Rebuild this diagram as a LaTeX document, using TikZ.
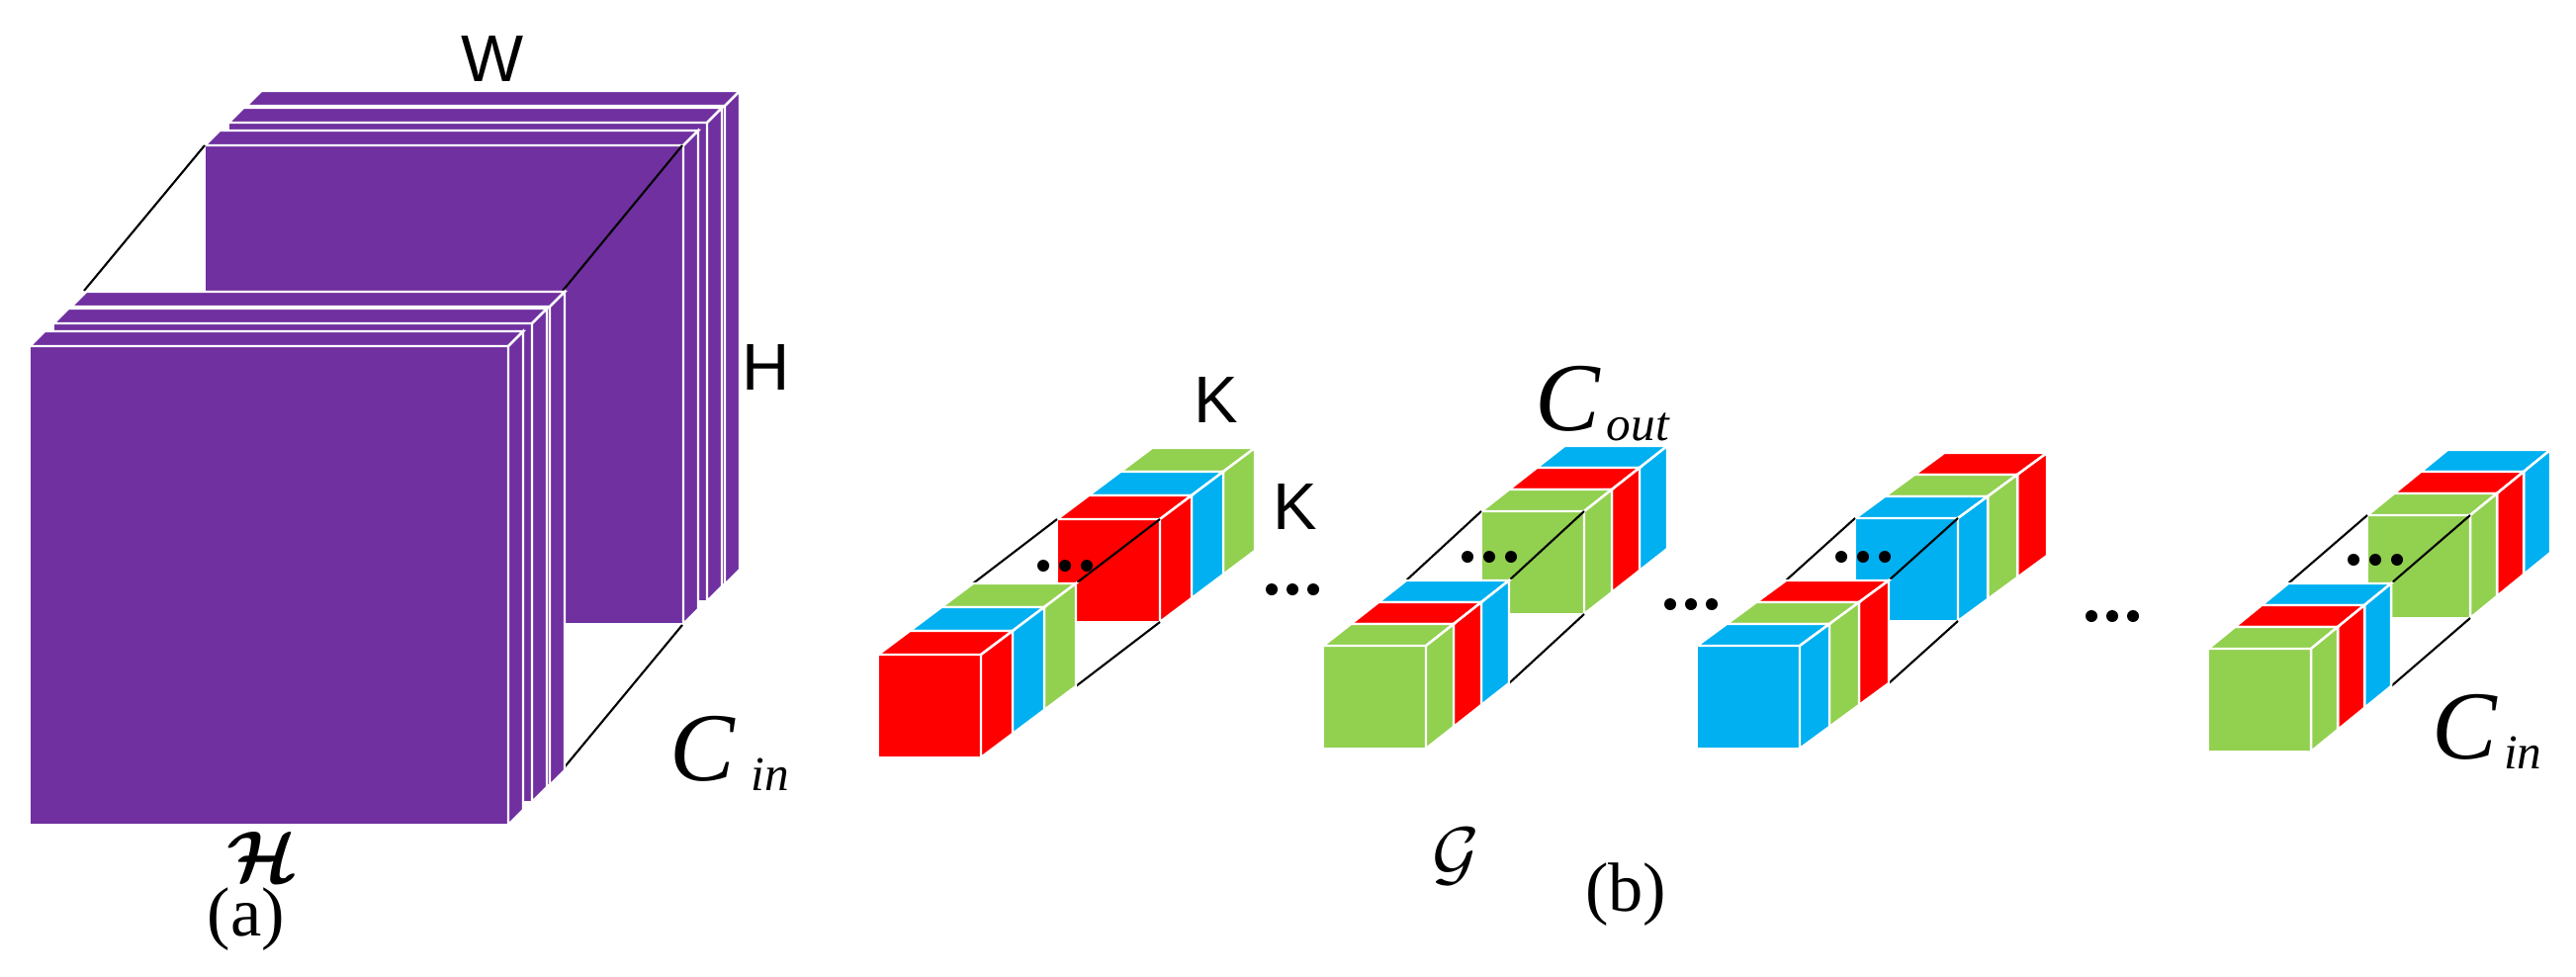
\documentclass[tikz,border=0pt]{standalone}
\usepackage{fontspec}
\usepackage{amsmath,bm}
\setmainfont{Liberation Serif}
\newfontfamily\sansf{Liberation Sans}
\definecolor{pur}{HTML}{7030A0}
\definecolor{kred}{HTML}{FF0000}
\definecolor{kblue}{HTML}{00B0F0}
\definecolor{kgreen}{HTML}{92D050}
\newcommand\slab[6]{%
 \begin{scope}[shift={(#2,#3)}]
  \filldraw[face,fill=#1] (0,0) rectangle (#4,#4);
  \filldraw[face,fill=#1] (0,0) -- (#5,#6) -- ({#4+#5},#6) -- (#4,0) -- cycle;
  \filldraw[face,fill=#1] (#4,0) -- ({#4+#5},#6) -- ({#4+#5},{#4+#6}) -- (#4,#4) -- cycle;
 \end{scope}}
% #1 x, #2 y, #3-#5 colours, #6 #7 slice depth, #8 #9 back-group offset
\newcommand\kbar[9]{%
 \begin{scope}[shift={(#1,#2)}]
 \slab{#5}{#8+2*#6}{#9+2*#7}{104}{#6}{#7}
 \slab{#4}{#8+#6}{#9+#7}{104}{#6}{#7}
 \slab{#3}{#8}{#9}{104}{#6}{#7}
 \draw[edge] (3*#6,3*#7) -- (#8,#9);
 \draw[edge] (104+3*#6,3*#7) -- (#8+104,#9);
 \draw[edge] (104+3*#6,104+3*#7) -- (#8+104,#9+104);
 \slab{#5}{2*#6}{2*#7}{104}{#6}{#7}
 \slab{#4}{#6}{#7}{104}{#6}{#7}
 \slab{#3}{0}{0}{104}{#6}{#7}
 \fill (#8-14,-90) circle (6) (#8+8,-90) circle (6) (#8+30,-90) circle (6);
 \end{scope}}
\newcommand\threedots[2]{\fill (#1,#2) circle (6) (#1+21,#2) circle (6) (#1+42,#2) circle (6);}
\begin{document}
\begin{tikzpicture}[x=0.01cm,y=-0.01cm,
 face/.style={draw=white,line width=0.7pt},
 edge/.style={draw=black,line width=0.6pt},
 sl/.style={font=\sansf\fontsize{19}{19}\selectfont},
 sr/.style={font=\fontsize{20}{20}\selectfont}]
\useasboundingbox (0,0) rectangle (2605,987);
% panel (a) back stack
\slab{pur}{249}{107}{484}{15}{-15}
\slab{pur}{231}{124}{484}{15}{-15}
\slab{pur}{207}{147}{484}{15}{-15}
\draw[edge] (85,294) -- (207,147);
\draw[edge] (569,294) -- (690,147);
\draw[edge] (569,778) -- (690,632);
\slab{pur}{72}{310}{484}{15}{-15}
\slab{pur}{54}{327}{484}{15}{-15}
\slab{pur}{30}{350}{484}{15}{-15}
\node[sl] (w) at (498,60) {W};
\node[sl] (h) at (775,372) {H};
\node (cin) at (738,762) {\fontsize{28}{28}\selectfont\itshape C\,\raisebox{-3pt}{\fontsize{14}{14}\selectfont in}};
\node (hh) at (266,866) {\fontsize{22}{22}\selectfont$\bm{\mathcal{H}}$};
\node[sr] (a) at (249,930) {(a)};
% panel (b)
\kbar{888}{662}{kred}{kblue}{kgreen}{32}{-24}{181}{-137}
\kbar{1338}{653}{kgreen}{kred}{kblue}{28}{-22}{160}{-136}
\kbar{1716}{653}{kblue}{kgreen}{kred}{30}{-22}{160}{-129}
\kbar{2233}{656}{kgreen}{kred}{kblue}{27}{-22}{161}{-135}
\threedots{1286}{596}
\threedots{1689}{611}
\threedots{2115}{623}
\node[sl] (k1) at (1230,405) {K};
\node[sl] (k2) at (1310,513) {K};
\node (cout) at (1620,408) {\fontsize{28}{28}\selectfont\itshape C\kern2pt\raisebox{-3pt}{\fontsize{14}{14}\selectfont out}};
\node (cin2) at (2515,740) {\fontsize{28}{28}\selectfont\itshape C\kern2pt\raisebox{-3pt}{\fontsize{14}{14}\selectfont in}};
\node (g) at (1472,866) {\fontsize{22}{22}\selectfont$\mathcal{G}$};
\node[sr] (b) at (1644,905) {(b)};
\end{tikzpicture}
\end{document}
